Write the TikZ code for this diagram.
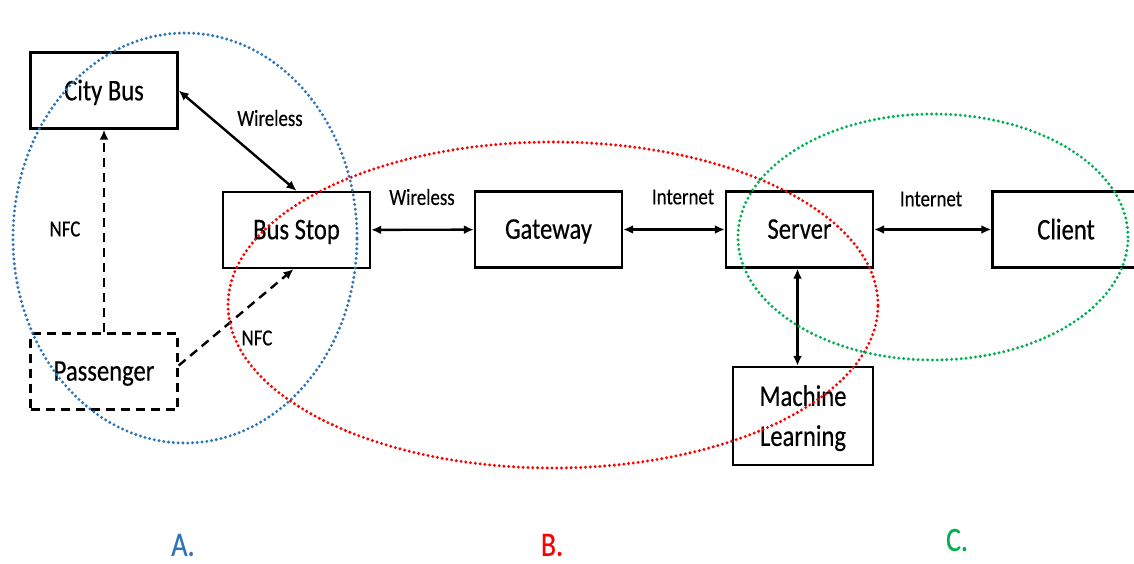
\documentclass[tikz,border=0pt]{standalone}
\usepackage{fontspec}
\setmainfont{Carlito}[FakeStretch=0.82,FakeBold=0.4]
\usetikzlibrary{arrows.meta}

\definecolor{sininen}{RGB}{46,117,182}
\definecolor{punainen}{RGB}{255,0,0}
\definecolor{vihrea}{RGB}{0,176,80}

\begin{document}
\begin{tikzpicture}[x=1pt,y=-1pt,
  laatikko/.style={draw, line width=2.4pt, inner sep=0pt, minimum width=147pt,
    minimum height=76pt, align=center, text depth=1pt, font=\fontsize{30}{40}\selectfont},
  nuoli/.style={line width=2.4pt, {Latex[length=10pt,width=9pt]}-{Latex[length=10pt,width=9pt]}},
  katko/.style={line width=2.4pt, dash pattern=on 9pt off 6pt},
  teksti/.style={font=\fontsize{23}{25}\selectfont},
  alue/.style={line width=3.3pt, dash pattern=on 0pt off 4.8pt, line cap=round},
  kirjain/.style={font=\fontsize{34}{36}\selectfont}]
\useasboundingbox (0,0) rectangle (1134,563);

% laitteet
\node[laatikko] (bus) at (104,90.5) {City Bus};
\node[laatikko] (stop) at (296.5,230) {Bus Stop};
\node[laatikko] (gw) at (548.5,229.5) {Gateway};
\node[laatikko] (srv) at (799.5,229.5) {Server};
\node[laatikko] (cli) at (1066,229.5) {Client};
\node[laatikko, katko] (pass) at (104,371.5) {Passenger};
\node[laatikko, minimum width=140pt, minimum height=98pt] (ml) at (803,416) {Machine\\Learning};

% yhteydet
\draw[nuoli] (bus.east) -- (stop.north);
\draw[nuoli] (stop) -- (gw);
\draw[nuoli] (gw) -- (srv);
\draw[nuoli] (srv) -- (cli);
\draw[nuoli] ([xshift=-2pt]srv.south) -- ([xshift=-2pt]srv.south |- ml.north);
\draw[katko, -{Latex[length=10pt,width=9pt]}] (pass) -- (bus);
\draw[katko, -{Latex[length=10pt,width=9pt]}] ([yshift=6pt]pass.east) -- ([xshift=-3pt]stop.south);

\node[teksti] (w1) at (270,118) {Wireless};
\node[teksti] (n1) at (65,229) {NFC};
\node[teksti] (n2) at (257,338) {NFC};
\node[teksti] (w2) at (422,197) {Wireless};
\node[teksti] (i1) at (683,197) {Internet};
\node[teksti] (i2) at (931,199) {Internet};

% alueet
\draw[alue, sininen] (185,238) ellipse [x radius=172pt, y radius=205pt];
\draw[alue, punainen] (553,305) ellipse [x radius=325pt, y radius=163pt];
\draw[alue, vihrea] (933,237) ellipse [x radius=195pt, y radius=123pt];

\node[kirjain, text=sininen] (a) at (183,545) {A.};
\node[kirjain, text=punainen] (b) at (552,545) {B.};
\node[kirjain, text=vihrea] (c) at (957,540) {C.};
\end{tikzpicture}
\end{document}
